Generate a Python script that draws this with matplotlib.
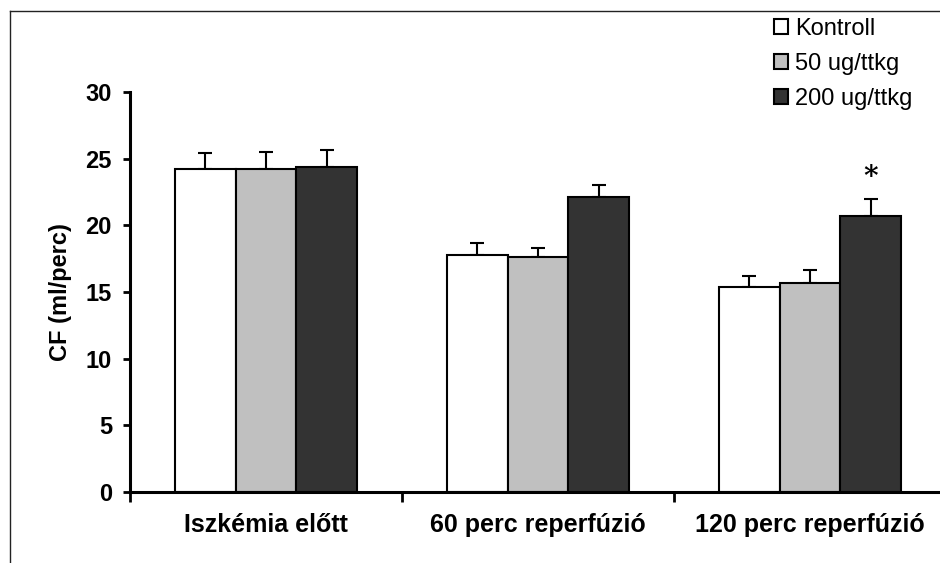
import numpy as np
import matplotlib.pyplot as plt
from matplotlib.lines import Line2D

plt.rcParams['font.family'] = ['Liberation Sans', 'DejaVu Sans']

categories = ['Iszkémia előtt', '60 perc reperfúzió', '120 perc reperfúzió']
groups = ['Kontroll', '50 ug/ttkg', '200 ug/ttkg']
means = [[24.2, 17.8, 15.4],
         [24.2, 17.6, 15.65],
         [24.4, 22.15, 20.7]]
errs = [[1.2, 0.9, 0.8],
        [1.3, 0.7, 1.0],
        [1.25, 0.85, 1.3]]
colors = ['white', '#c0c0c0', '#333333']

fig = plt.figure(figsize=(9.4, 5.63), dpi=100)
ax = fig.add_axes([130/940, 71/563, 816/940, 400/563])

x = np.arange(len(categories))
w = 0.224
for i in range(3):
    ax.bar(x + (i - 1)*w, means[i], w, color=colors[i], edgecolor='black',
           linewidth=1.5, label=groups[i], zorder=2)
    ax.errorbar(x + (i - 1)*w, means[i], yerr=[np.zeros(3), errs[i]], fmt='none',
                ecolor='black', elinewidth=1.5, capsize=5, capthick=1.5, zorder=1)

# significance mark
ax.text(x[2] + w, 23.6, '*', ha='center', va='center', fontsize=20,
        fontweight='bold', family='DejaVu Serif')

ax.set_xlim(-0.5, 2.5)
ax.set_ylim(0, 30)
ax.set_yticks(range(0, 31, 5))
ax.set_xticks(x)
ax.set_xticklabels(categories, fontsize=18, fontweight='bold')
ax.set_xticks([-0.5, 0.5, 1.5, 2.5], minor=True)
ax.tick_params(axis='x', which='major', length=0, pad=15)
ax.tick_params(axis='x', which='minor', length=7, width=2, direction='out')
ax.tick_params(axis='y', length=5, width=2, pad=8, labelsize=17)
for lab in ax.get_yticklabels():
    lab.set_fontweight('bold')
ax.set_ylabel('CF (ml/perc)', fontsize=17, fontweight='bold', labelpad=10)

for s in ['top', 'right']:
    ax.spines[s].set_visible(False)
for s in ['left', 'bottom']:
    ax.spines[s].set_linewidth(2.2)

ax.legend(loc='upper left', bbox_to_anchor=(762/940, 1 - 6/563),
          bbox_transform=fig.transFigure, frameon=False, fontsize=17,
          handlelength=0.6, handleheight=0.6, handletextpad=0.3,
          labelspacing=0.55, borderpad=0)

# outer frame (left and top edges only)
fig.add_artist(Line2D([10/940, 10/940], [0, 1 - 11/563], color='#222222', lw=1))
fig.add_artist(Line2D([10/940, 1], [1 - 11/563, 1 - 11/563], color='#222222', lw=1))

plt.savefig('out.png', dpi=100)
